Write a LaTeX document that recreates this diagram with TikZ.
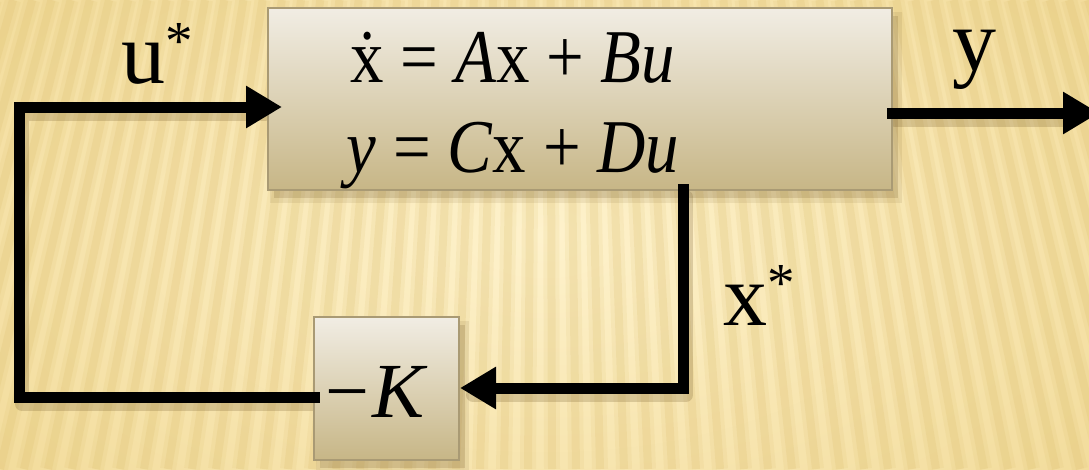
\documentclass[tikz,border=0pt]{standalone}
\usepackage{fontspec}
\setmainfont{Liberation Serif}
\usetikzlibrary{arrows.meta,calc}
\definecolor{bgout}{HTML}{F1D995}
\definecolor{bgin}{HTML}{FEF2CC}
\definecolor{stripe}{HTML}{D9B965}
\definecolor{boxtop}{HTML}{F1EDE4}
\definecolor{boxbot}{HTML}{C7B686}
\definecolor{boxline}{HTML}{A99A74}
\definecolor{shadowc}{HTML}{6B5225}
\tikzset{
  sysbox/.style={draw=boxline, line width=1.6pt, top color=boxtop, bottom color=boxbot,
    inner sep=0pt, outer sep=0pt},
  eqtext/.style={font=\fontsize{76}{76}\selectfont, inner sep=0pt, anchor=base},
  boxshadow/.style={fill=shadowc, opacity=0.18, draw=none},
  wire/.style={line width=11pt, black, line cap=rect, line join=miter},
  wireshadow/.style={line width=14pt, shadowc, opacity=0.22, line cap=round, line join=round},
  tip/.style={-{Triangle[length=36pt,width=40pt]}},
  lbl/.style={font=\fontsize{88}{88}\selectfont, inner sep=0pt, anchor=base west},
}
\newcommand{\starsup}{\raisebox{24pt}{\fontsize{55}{55}\selectfont *}}
\newcommand{\gp}{\hspace{19pt}}
\newcommand{\sq}[1]{\scalebox{0.88}[1]{#1}}
\begin{document}
\begin{tikzpicture}[x=1pt,y=-1pt]
\useasboundingbox (0,0) rectangle (1089,469);
% background
\shade[inner color=bgin, outer color=bgout] (-250,-200) rectangle (1339,669);
\begin{scope}
\clip (0,0) rectangle (1089,469);
\foreach \i in {-14,...,60} {
  \pgfmathsetmacro{\xb}{\i*24}
  \pgfmathsetmacro{\xt}{545+(\xb-545)*0.8}
  \draw[stripe, opacity=0.12, line width=16pt] (\xt,0) -- (\xb,469);
  \draw[stripe, opacity=0.18, line width=8pt] (\xt,0) -- (\xb,469);
}
\end{scope}
% shadows
\fill[boxshadow] (274,16) rectangle (898,198);
\fill[boxshadow, opacity=0.1] (270,12) rectangle (902,203);
\fill[boxshadow] (320,325) rectangle (465,468);
\fill[boxshadow, opacity=0.1] (316,321) rectangle (469,473);
\begin{scope}[shift={(3,7)}]
\draw[wireshadow] (314,397) -- (19,397) -- (19,107) -- (262,107);
\draw[wireshadow] (683,190) -- (683,388) -- (470,388);
\draw[wireshadow] (892,113) -- (1070,113);
\end{scope}
% blocks
\node[sysbox, minimum width=624pt, minimum height=182pt] (sys) at (580,99) {};
\node[eqtext] (eq1) at (513,82) {\sq{\.{x}\gp=\gp\textit{A}x\gp+\gp\textit{Bu}}};
\node[eqtext] (eq2) at (513,172) {\sq{\textit{y}\gp=\gp\textit{C}x\gp+\gp\textit{Du}}};
\node[sysbox, minimum width=145pt, minimum height=143pt] (kbox) at (386.5,388.5) {};
\node[eqtext, font=\fontsize{78}{78}\selectfont] (kt) at (377,417) {−\hspace{3pt}\textit{K}};
% coordinates
\coordinate (kin) at (314,397);
\coordinate (uin) at (282,107);
\coordinate (xout) at (683,189);
\coordinate (kout) at (460,388);
\coordinate (yout) at (892,113);
\coordinate (yend) at (1099,113);
% connectors
\draw[wire, tip] (kin) -- (19,397) |- (uin);
\draw[wire, tip] (xout) |- (kout);
\draw[wire, tip] (yout) -- (yend);
% labels
\node[lbl] (lu) at (121,83) {u\starsup};
\node[lbl] (lx) at (723,325) {x\starsup};
\node[lbl] (ly) at (952,70) {y};
\end{tikzpicture}
\end{document}
